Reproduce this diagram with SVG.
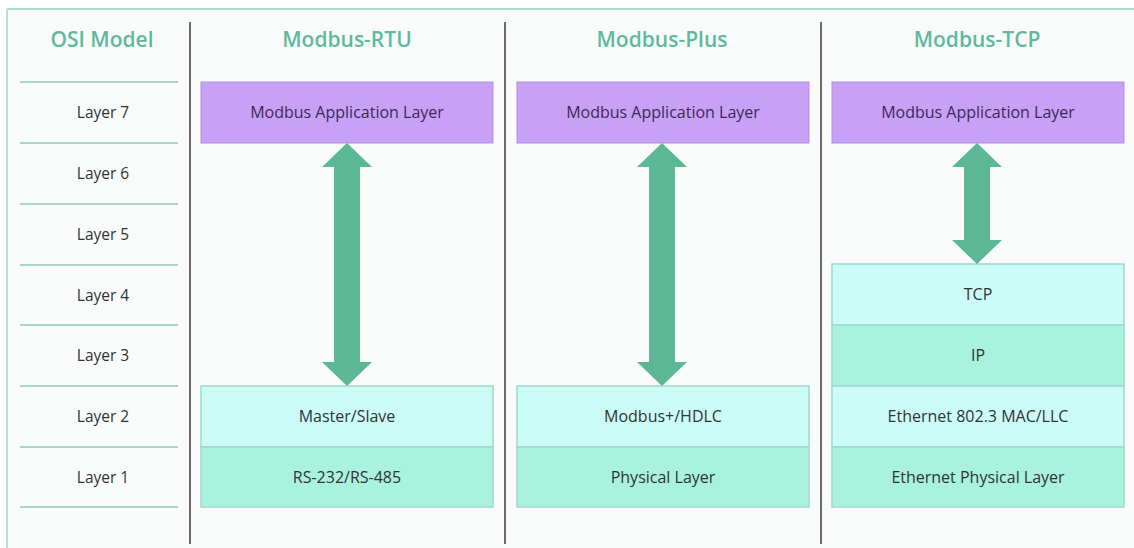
<svg xmlns="http://www.w3.org/2000/svg" width="1134" height="548" viewBox="0 0 1134 548">
<style>
.title{font-family:"Open Sans","Noto Sans",sans-serif;font-size:21px;font-weight:600;fill:#5fb99c;text-anchor:middle}
.lbl{font-family:"Open Sans","Noto Sans",sans-serif;font-size:16px;fill:#2f3433;text-anchor:middle}
.osi{font-family:"Open Sans","Noto Sans",sans-serif;font-size:15.5px;fill:#2f3433;text-anchor:middle}
.plbl{font-family:"Open Sans","Noto Sans",sans-serif;font-size:16px;fill:#3b2a55;text-anchor:middle}
.sep{stroke:#a9d6cc;stroke-width:2}
.div{stroke:#6b6b6b;stroke-width:2}
.app{fill:#c8a0f6;stroke:#b48fe4;stroke-width:1}
.l2{fill:#ccfcf7;stroke:#9fd8cb;stroke-width:1.5}
.l1{fill:#a9f2de;stroke:#9fd8cb;stroke-width:1.5}
.arrow{fill:#5cb894}
</style>
<rect x="0" y="0" width="1134" height="548" fill="#ffffff"/>
<rect x="7" y="9" width="1127" height="539" fill="#f9fbfb"/>
<line x1="7" y1="9" x2="1134" y2="9" stroke="#a9d8cc" stroke-width="2"/>
<line x1="7" y1="9" x2="7" y2="548" stroke="#b9e0d6" stroke-width="2"/>
<g id="dividers">
<line class="div" x1="190" y1="22" x2="190" y2="544"/>
<line class="div" x1="505" y1="22" x2="505" y2="544"/>
<line class="div" x1="821" y1="22" x2="821" y2="544"/>
</g>
<g id="osi">
<text class="title" x="102" y="47">OSI Model</text>
<line class="sep" x1="20" y1="82" x2="178" y2="82"/>
<line class="sep" x1="20" y1="143" x2="178" y2="143"/>
<line class="sep" x1="20" y1="204" x2="178" y2="204"/>
<line class="sep" x1="20" y1="265" x2="178" y2="265"/>
<line class="sep" x1="20" y1="325" x2="178" y2="325"/>
<line class="sep" x1="20" y1="386" x2="178" y2="386"/>
<line class="sep" x1="20" y1="447" x2="178" y2="447"/>
<line class="sep" x1="20" y1="507" x2="178" y2="507"/>
<text class="osi" x="103" y="118">Layer 7</text>
<text class="osi" x="103" y="179">Layer 6</text>
<text class="osi" x="103" y="240">Layer 5</text>
<text class="osi" x="103" y="301">Layer 4</text>
<text class="osi" x="103" y="361">Layer 3</text>
<text class="osi" x="103" y="422">Layer 2</text>
<text class="osi" x="103" y="483">Layer 1</text>
</g>
<g id="rtu">
<text class="title" x="347" y="47">Modbus-RTU</text>
<g id="rtu-app"><rect class="app" x="201" y="82" width="292" height="61"/><text class="plbl" x="347" y="118">Modbus Application Layer</text></g>
<g id="rtu-l2"><rect class="l2" x="201" y="386" width="292" height="61"/><text class="lbl" x="347" y="422">Master/Slave</text></g>
<g id="rtu-l1"><rect class="l1" x="201" y="447" width="292" height="60"/><text class="lbl" x="347" y="483">RS-232/RS-485</text></g>
</g>
<g id="plus">
<text class="title" x="662" y="47">Modbus-Plus</text>
<g id="plus-app"><rect class="app" x="517" y="82" width="292" height="61"/><text class="plbl" x="663" y="118">Modbus Application Layer</text></g>
<g id="plus-l2"><rect class="l2" x="517" y="386" width="292" height="61"/><text class="lbl" x="663" y="422">Modbus+/HDLC</text></g>
<g id="plus-l1"><rect class="l1" x="517" y="447" width="292" height="60"/><text class="lbl" x="663" y="483">Physical Layer</text></g>
</g>
<g id="tcp">
<text class="title" x="977" y="47">Modbus-TCP</text>
<g id="tcp-app"><rect class="app" x="832" y="82" width="292" height="61"/><text class="plbl" x="978" y="118">Modbus Application Layer</text></g>
<g id="tcp-l4"><rect class="l2" x="832" y="264" width="292" height="61"/><text class="lbl" x="978" y="300">TCP</text></g>
<g id="tcp-l3"><rect class="l1" x="832" y="325" width="292" height="61"/><text class="lbl" x="978" y="361">IP</text></g>
<g id="tcp-l2"><rect class="l2" x="832" y="386" width="292" height="61"/><text class="lbl" x="978" y="422">Ethernet 802.3 MAC/LLC</text></g>
<g id="tcp-l1"><rect class="l1" x="832" y="447" width="292" height="60"/><text class="lbl" x="978" y="483">Ethernet Physical Layer</text></g>
</g>
<g id="connectors">
<path class="arrow" d="M347,143 L372,167 L360,167 L360,362 L372,362 L347,386 L322,362 L334,362 L334,167 L322,167 Z"/>
<path class="arrow" d="M662,143 L687,167 L675,167 L675,362 L687,362 L662,386 L637,362 L649,362 L649,167 L637,167 Z"/>
<path class="arrow" d="M977,143 L1002,167 L990,167 L990,240 L1002,240 L977,264 L952,240 L964,240 L964,167 L952,167 Z"/>
</g>
</svg>
